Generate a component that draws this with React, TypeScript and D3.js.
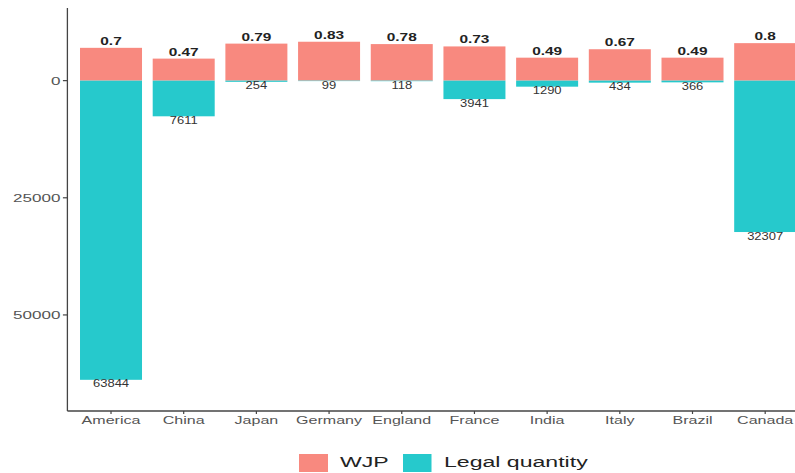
import React from "react";
import * as d3 from "d3";

// Countries along the x axis
const countries = [
  "America", "China", "Japan", "Germany", "England",
  "France", "India", "Italy", "Brazil", "Canada",
];
// WJP rule-of-law index per country
const wjp = [0.7, 0.47, 0.79, 0.83, 0.78, 0.73, 0.49, 0.67, 0.49, 0.8];
// Legal quantity per country
const legalQuantity = [63844, 7611, 254, 99, 118, 3941, 1290, 434, 366, 32307];
// Y tick values (drawn downward as positive numbers)
const yTicks = [0, 25000, 50000];
// WJP values are multiplied by this factor so they share the axis
const wjpFactor = 10000;

const seriesNames = ["WJP", "Legal quantity"];
const colors = ["#F8897F", "#26C9CC"];

const W = 795;
const H = 473;
const FONT = "'Liberation Sans', Arial, sans-serif";

function SText(props: {
  x: number; y: number; sx: number; size: number; anchor?: string;
  weight?: string | number; fill?: string; children: React.ReactNode;
}) {
  const { x, y, sx, size, anchor = "middle", weight = "normal", fill = "#333", children } = props;
  return (
    <text
      transform={`translate(${x},${y}) scale(${sx},1)`}
      textAnchor={anchor}
      fontFamily={FONT}
      fontSize={size}
      fontWeight={weight}
      fill={fill}
    >
      {children}
    </text>
  );
}

export default function App() {
  const plotLeft = 67.4;
  const plotRight = 808.8;
  const plotTop = 8;
  const plotBottom = 411;

  const x = d3
    .scaleBand<string>()
    .domain(countries)
    .range([plotLeft, plotRight])
    .paddingInner(0.147)
    .paddingOuter(0.1735);

  // positive = WJP (scaled), negative = legal quantity
  const y = d3.scaleLinear().domain([15500, -70500]).range([plotTop, plotBottom]);

  const bw = x.bandwidth();
  const y0 = y(0);

  return (
    <svg
      width={W}
      height={H}
      style={{ position: "absolute", left: 0, top: 0, background: "#fff" }}
    >
      <defs>
        <clipPath id="plotClip">
          <rect x={plotLeft} y={0} width={W - plotLeft} height={H} />
        </clipPath>
      </defs>

      <g clipPath="url(#plotClip)">
        {countries.map((c, i) => {
          const bx = x(c) as number;
          const top = y(wjp[i] * wjpFactor);
          const bot = y(-legalQuantity[i]);
          return (
            <g key={c}>
              <rect x={bx} y={top} width={bw} height={y0 - top} fill={colors[0]} />
              <rect x={bx} y={y0} width={bw} height={bot - y0} fill={colors[1]} />
              <SText x={bx + bw / 2} y={top - 3} sx={1.4} size={11} weight="bold" fill="#222">
                {String(wjp[i])}
              </SText>
              <SText x={bx + bw / 2} y={bot + 7.5} sx={1.3} size={10} fill="#333">
                {String(legalQuantity[i])}
              </SText>
            </g>
          );
        })}
      </g>

      {/* axes */}
      <line x1={plotLeft} x2={plotLeft} y1={plotTop} y2={plotBottom} stroke="#444" strokeWidth={1.3} />
      <line x1={plotLeft} x2={W} y1={plotBottom} y2={plotBottom} stroke="#444" strokeWidth={1.3} />

      {yTicks.map((t) => (
        <g key={t}>
          <line x1={plotLeft - 4.5} x2={plotLeft} y1={y(-t)} y2={y(-t)} stroke="#444" strokeWidth={1.2} />
          <SText x={plotLeft - 7} y={y(-t) + 4} sx={1.55} size={11} anchor="end" fill="#555">
            {String(t)}
          </SText>
        </g>
      ))}

      {countries.map((c) => {
        const cx = (x(c) as number) + bw / 2;
        return (
          <g key={c}>
            <line x1={cx} x2={cx} y1={plotBottom} y2={plotBottom + 3} stroke="#444" strokeWidth={1.2} />
            <SText x={cx} y={424} sx={1.46} size={11} fill="#555">
              {c}
            </SText>
          </g>
        );
      })}

      {/* legend */}
      <rect x={299} y={454} width={29} height={18} fill={colors[0]} />
      <SText x={340} y={467} sx={1.65} size={14} anchor="start" fill="#222">
        {seriesNames[0]}
      </SText>
      <rect x={403} y={454} width={28.5} height={18} fill={colors[1]} />
      <SText x={444} y={467} sx={1.65} size={14} anchor="start" fill="#222">
        {seriesNames[1]}
      </SText>
    </svg>
  );
}
